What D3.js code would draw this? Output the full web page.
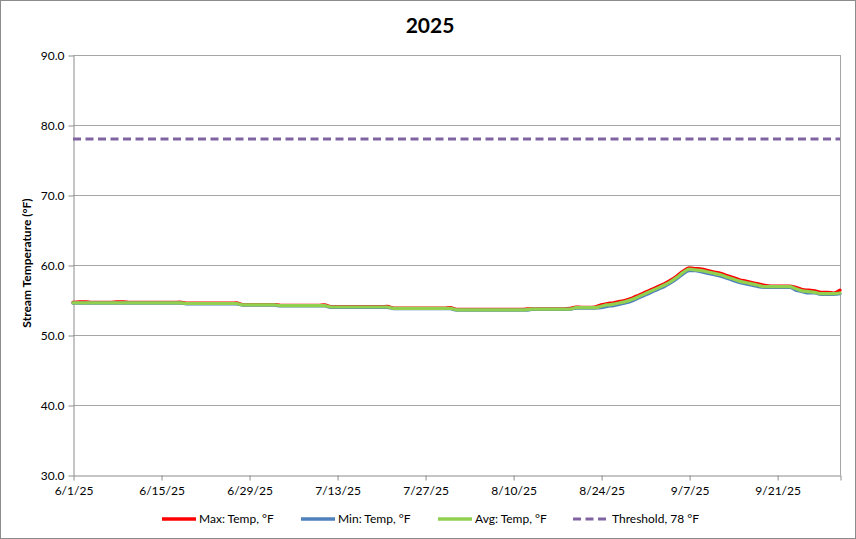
<!DOCTYPE html>
<html>
<head>
<meta charset="utf-8">
<script src="https://cdn.jsdelivr.net/npm/d3@7/dist/d3.min.js"></script>
<style>
  body { margin: 0; background: #fff; }
  svg { display: block; font-family: Lato, "Open Sans", sans-serif; }
</style>
</head>
<body>
<div id="chart"></div>
<script>
// daily readings starting 6/1/25
var startDay = new Date(2025, 5, 1);
var maxTemp = [
  54.65,54.75,54.75,54.65,54.65,54.65,54.65,54.75,54.75,54.65,54.65,54.65,54.65,54.65,
  54.65,54.65,54.65,54.7,54.55,54.55,54.55,54.55,54.55,54.55,54.55,54.55,54.6,54.35,
  54.35,54.35,54.35,54.35,54.35,54.25,54.25,54.25,54.25,54.25,54.25,54.25,54.3,54.05,
  54.05,54.05,54.05,54.05,54.05,54.05,54.05,54.05,54.1,53.85,53.85,53.85,53.85,53.85,
  53.85,53.85,53.85,53.85,53.9,53.65,53.65,53.65,53.65,53.65,53.65,53.65,53.65,53.65,
  53.65,53.65,53.7,53.75,53.75,53.75,53.75,53.75,53.75,53.8,54.0,53.95,53.95,54.0,
  54.3,54.5,54.6,54.8,55.0,55.3,55.7,56.1,56.5,56.9,57.3,57.8,58.4,59.1,
  59.6,59.5,59.4,59.2,59.0,58.8,58.5,58.2,57.9,57.7,57.5,57.3,57.1,57.0,
  57.0,57.0,57.0,56.8,56.5,56.4,56.3,56.1,56.1,56.0,56.4
];
var minTemp = [
  54.55,54.55,54.55,54.55,54.55,54.55,54.55,54.55,54.55,54.55,54.55,54.55,54.55,54.55,
  54.55,54.55,54.55,54.55,54.45,54.45,54.45,54.45,54.45,54.45,54.45,54.45,54.45,54.25,
  54.25,54.25,54.25,54.25,54.25,54.15,54.15,54.15,54.15,54.15,54.15,54.15,54.15,53.95,
  53.95,53.95,53.95,53.95,53.95,53.95,53.95,53.95,53.95,53.75,53.75,53.75,53.75,53.75,
  53.75,53.75,53.75,53.75,53.75,53.55,53.55,53.55,53.55,53.55,53.55,53.55,53.55,53.55,
  53.55,53.55,53.55,53.65,53.65,53.65,53.65,53.65,53.65,53.65,53.85,53.85,53.85,53.85,
  53.9,54.1,54.2,54.4,54.6,54.9,55.3,55.7,56.1,56.5,56.9,57.4,58.0,58.7,
  59.2,59.2,59.0,58.8,58.6,58.4,58.1,57.8,57.5,57.3,57.1,56.9,56.8,56.8,
  56.8,56.8,56.8,56.4,56.2,56.0,56.0,55.8,55.8,55.8,55.9
];
var avgTemp = [
  54.6,54.6,54.6,54.6,54.6,54.6,54.6,54.6,54.6,54.6,54.6,54.6,54.6,54.6,
  54.6,54.6,54.6,54.6,54.5,54.5,54.5,54.5,54.5,54.5,54.5,54.5,54.5,54.3,
  54.3,54.3,54.3,54.3,54.3,54.2,54.2,54.2,54.2,54.2,54.2,54.2,54.2,54.0,
  54.0,54.0,54.0,54.0,54.0,54.0,54.0,54.0,54.0,53.8,53.8,53.8,53.8,53.8,
  53.8,53.8,53.8,53.8,53.8,53.6,53.6,53.6,53.6,53.6,53.6,53.6,53.6,53.6,
  53.6,53.6,53.6,53.7,53.7,53.7,53.7,53.7,53.7,53.7,53.9,53.9,53.9,53.9,
  54.1,54.3,54.4,54.6,54.8,55.1,55.5,55.9,56.3,56.7,57.1,57.6,58.2,58.9,
  59.4,59.3,59.2,59.0,58.8,58.6,58.3,58.0,57.7,57.5,57.3,57.1,56.9,56.9,
  56.9,56.9,56.9,56.6,56.3,56.2,56.1,55.9,55.9,55.9,56.0
];
var threshold = 78;
var yTicks = [30, 40, 50, 60, 70, 80, 90];
var xTickLabels = ["6/1/25", "6/15/25", "6/29/25", "7/13/25", "7/27/25", "8/10/25", "8/24/25", "9/7/25", "9/21/25"];
var seriesNames = ["Max: Temp, °F", "Min: Temp, °F", "Avg: Temp, °F", "Threshold, 78 °F"];
var seriesColors = ["#ff0000", "#4f81bd", "#92d050", "#8064a2"];

var width = 856, height = 539;
var plotLeft = 73, plotRight = 840, plotTop = 55, plotBottom = 475;

var svg = d3.select('#chart').append('svg').attr('width', width).attr('height', height);

svg.append('rect').attr('x', 0.5).attr('y', 0.5).attr('width', width - 1).attr('height', height - 1)
  .attr('fill', '#fff').attr('stroke', '#8c8c8c');

var endDay = d3.timeDay.offset(startDay, 122);
var x = d3.scaleTime().domain([startDay, endDay]).range([plotLeft, plotRight]);
var y = d3.scaleLinear().domain([30, 90]).range([plotBottom, plotTop]);

var dates = avgTemp.map(function(d, i) { return d3.timeDay.offset(startDay, i); });
var tickDates = xTickLabels.map(function(d) { return d3.timeParse('%m/%d/%y')(d); });

// gridlines
svg.append('g').selectAll('line').data(yTicks.slice(1)).enter().append('line')
  .attr('x1', plotLeft).attr('x2', plotRight)
  .attr('y1', function(d) { return Math.round(y(d)) + 0.5; })
  .attr('y2', function(d) { return Math.round(y(d)) + 0.5; })
  .attr('stroke', '#a6a6a6').attr('stroke-width', 1);
svg.append('line').attr('x1', plotRight + 0.5).attr('x2', plotRight + 0.5).attr('y1', plotTop).attr('y2', plotBottom)
  .attr('stroke', '#a6a6a6');

// axes
var yAxis = d3.axisLeft(y).tickValues(yTicks).tickSize(5).tickSizeOuter(0).tickFormat(d3.format('.1f'));
var yg = svg.append('g').attr('transform', 'translate(' + (plotLeft + 0.5) + ',0.5)').call(yAxis);
var xAxis = d3.axisBottom(x).tickValues(tickDates.concat([endDay])).tickSize(5).tickSizeOuter(0)
  .tickFormat(function(d, i) { return xTickLabels[i] || ''; });
var xg = svg.append('g').attr('transform', 'translate(0.5,' + (Math.round(y(30)) + 0.5) + ')').call(xAxis);
[yg, xg].forEach(function(g) {
  g.selectAll('path, line').attr('stroke', '#8c8c8c');
  g.selectAll('text').attr('fill', '#000').style('font-size', '12px').style('font-family', 'Lato, sans-serif');
});
yg.selectAll('text').attr('x', -9);
xg.selectAll('text').attr('y', 11);

// threshold
svg.append('line').attr('x1', x(startDay)).attr('x2', plotRight)
  .attr('y1', y(threshold)).attr('y2', y(threshold))
  .attr('stroke', seriesColors[3]).attr('stroke-width', 3).attr('stroke-dasharray', '8,4.5');

var line = d3.line().x(function(d, i) { return x(dates[i]); }).y(function(d) { return y(d); }).curve(d3.curveMonotoneX);
[maxTemp, minTemp, avgTemp].forEach(function(series, i) {
  svg.append('path').datum(series).attr('d', line).attr('fill', 'none')
    .attr('stroke', seriesColors[i]).attr('stroke-width', 3.2)
    .attr('stroke-linejoin', 'round').attr('stroke-linecap', 'round');
});

// title
svg.append('text').attr('x', 430).attr('y', 33).attr('text-anchor', 'middle')
  .style('font-size', '21px').style('font-weight', 'bold').text('2025');
svg.append('text').attr('transform', 'translate(31,263) rotate(-90)').attr('text-anchor', 'middle')
  .style('font-size', '12px').style('font-weight', 'bold').text('Stream Temperature (°F)');

// legend
var legendX = [162, 301, 438, 573];
var lg = svg.append('g').selectAll('g').data(seriesNames).enter().append('g')
  .attr('transform', function(d, i) { return 'translate(' + legendX[i] + ',519)'; });
lg.append('line').attr('x1', 0).attr('x2', 34).attr('y1', 0).attr('y2', 0)
  .attr('stroke', function(d, i) { return seriesColors[i]; })
  .attr('stroke-width', function(d, i) { return i === 3 ? 3 : 3.5; })
  .attr('stroke-dasharray', function(d, i) { return i === 3 ? '8,4.5' : null; });
lg.append('text').attr('x', function(d, i) { return i === 3 ? 39 : 37; }).attr('y', 4)
  .style('font-size', '12px').text(function(d) { return d; });
</script>
</body>
</html>
